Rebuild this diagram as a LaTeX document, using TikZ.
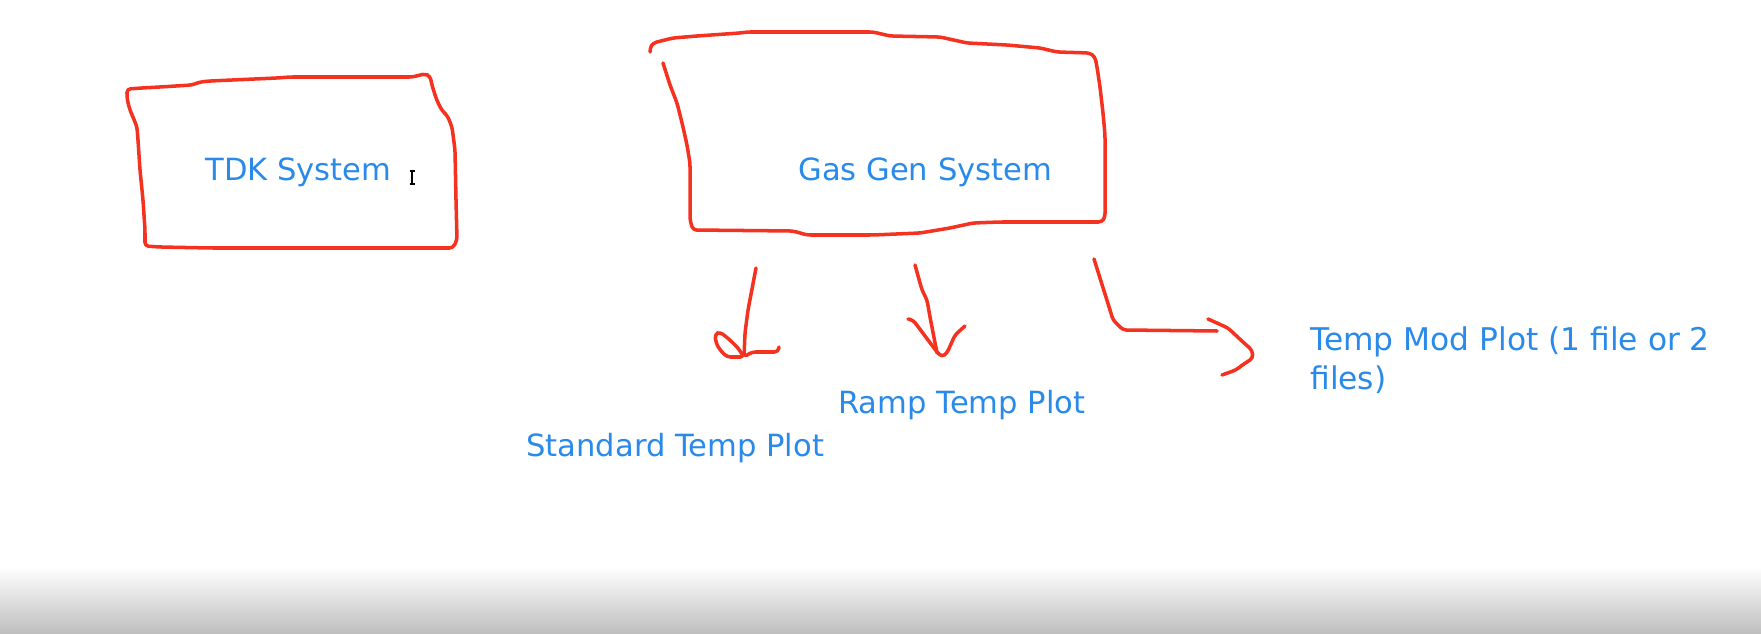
\documentclass[tikz,border=0pt]{standalone}
\usepackage{fontspec}
\setmainfont{DejaVu Sans}
\definecolor{inkred}{RGB}{245,50,32}
\definecolor{txtblue}{RGB}{42,138,234}
\definecolor{shadegray}{RGB}{190,190,190}
\begin{document}
\begin{tikzpicture}[x=0.02cm,y=-0.02cm,
  redline/.style={draw=inkred,line width=2pt,line join=round,line cap=round,rounded corners=2pt},
  lbl/.style={text=txtblue,inner sep=0pt,font=\fontsize{17.4}{21}\selectfont,anchor=base west}]
\useasboundingbox (0,0) rectangle (1761,634);
\fill[white] (0,0) rectangle (1761,634);
\shade[top color=white,bottom color=shadegray] (0,567) rectangle (1761,634);
% TDK box
\draw[redline] (127,89) -- (142,88) -- (160,87) -- (192,85) -- (200,82) -- (210,81) -- (277,78) -- (290,77) -- (413,77) -- (420,75) -- (425,74) -- (430,76) -- (432,85) -- (435,95) -- (438,103) -- (443,112) -- (447,115) -- (452,127) -- (455,150) -- (456,200) -- (457,240) -- (453,248) -- (300,248) -- (210,248) -- (160,247) -- (145,246) -- (145,230) -- (143,200) -- (141,180) -- (140,170) -- (138,140) -- (137,127) -- (135,122) -- (130,110) -- (128,103) -- (127,97) -- cycle;
\node[lbl] (tdk) at (205,181) {TDK System};
% cursor
\draw[black,line width=0.6pt] (412,171) -- (412,184) (409.5,171) -- (414.5,171) (409.5,184) -- (414.5,184);
% Gas Gen box
\draw[redline] (663,63) -- (670,85) -- (677,103) -- (683,127) -- (687,145) -- (690,163) -- (690,220) -- (693,230) -- (793,231) -- (807,235) -- (873,235) -- (920,233) -- (950,228) -- (973,223) -- (1000,222) -- (1102,222) -- (1105,217) -- (1105,135) -- (1103,113) -- (1100,87) -- (1097,67) -- (1095,57) -- (1090,53) -- (1057,52) -- (1040,48) -- (1007,45) -- (967,43) -- (940,37) -- (890,36) -- (873,32) -- (747,32) -- (740,33) -- (697,36) -- (673,38) -- (653,43) -- (650,48) -- (650,52);
\node[lbl] (gas) at (798,181) {Gas Gen System};
% arrow 1
\draw[redline] (756,268) -- (748,310) -- (745,333) -- (744,357) -- (752,352) -- (778,352) -- (779,347);
\draw[redline] (744,357) -- (727,357) -- (720,350) -- (716,343) -- (715,334) -- (720,332) -- (730,340) -- (738,348) -- cycle;
% arrow 2
\draw[redline] (915,265) -- (920,283) -- (922,290) -- (927,300) -- (930,317) -- (937,353);
\draw[redline] (908,319) -- (913,320) -- (925,336) -- (937,352) -- (942,357) -- (947,353) -- (955,335) -- (965,326);
% arrow 3
\draw[redline] (1094,259) -- (1110,310) -- (1113,320) -- (1123,330) -- (1217,331);
\draw[redline] (1208,319) -- (1228,328) -- (1244,343) -- (1252,350) -- (1253,358) -- (1247,362) -- (1241,366) -- (1236,370) -- (1222,375);
% labels
\node[lbl] (std) at (526,457) {Standard Temp Plot};
\node[lbl] (ramp) at (838,414) {Ramp Temp Plot};
\node[lbl,align=left,font=\fontsize{17.8}{21}\selectfont] (mod) at (1310,390) {Temp Mod Plot (1 file or 2\\[1.4pt]files)};
\end{tikzpicture}
\end{document}
